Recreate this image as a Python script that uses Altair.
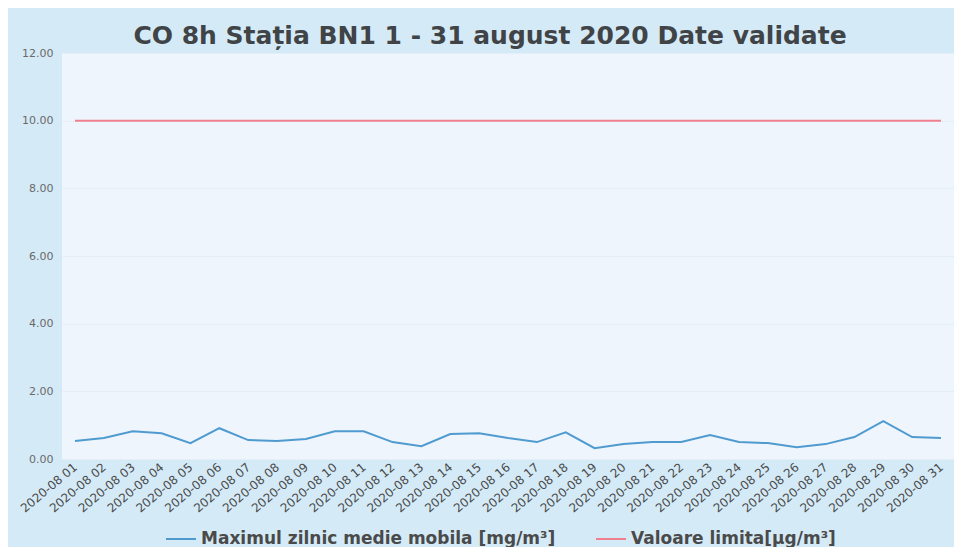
import altair as alt
import pandas as pd

dates = [f"2020-08 {d:02d}" for d in range(1, 32)]
co_values = [0.53, 0.62, 0.82, 0.76, 0.47, 0.91, 0.56, 0.53, 0.59, 0.82,
             0.82, 0.50, 0.38, 0.74, 0.76, 0.62, 0.50, 0.79, 0.32, 0.44,
             0.50, 0.50, 0.71, 0.50, 0.47, 0.35, 0.44, 0.65, 1.12, 0.65, 0.62]
limit_values = [10.0] * 31
series_names = ["Maximul zilnic medie mobila [mg/m³]", "Valoare limita[µg/m³]"]
series_colors = ["#4f9bd0", "#f0808e"]

rows = []
for d, v in zip(dates, co_values):
    rows.append({"date": d, "value": v, "series": series_names[0]})
for d, v in zip(dates, limit_values):
    rows.append({"date": d, "value": v, "series": series_names[1]})
df = pd.DataFrame(rows)

chart = alt.Chart(df).mark_line(strokeWidth=2).encode(
    x=alt.X("date:O", sort=dates, title=None,
            scale=alt.Scale(type="point", padding=0.45),
            axis=alt.Axis(labelAngle=-40, labelAlign="right", labelBaseline="middle",
                          labelFontSize=12, labelColor="#4a4a4a", labelFont="DejaVu Sans",
                          ticks=False, domain=False, labelPadding=6, labelOverlap=False)),
    y=alt.Y("value:Q", title=None,
            scale=alt.Scale(domain=[0, 12], nice=False),
            axis=alt.Axis(values=[0, 2, 4, 6, 8, 10, 12], format=".2f",
                          labelFontSize=11, labelColor="#6a6a6a", labelFont="DejaVu Sans",
                          ticks=False, domain=False, grid=True, gridColor="#e4eef8",
                          labelPadding=9)),
    color=alt.Color("series:N", sort=series_names,
                    scale=alt.Scale(domain=series_names, range=series_colors),
                    legend=alt.Legend(title=None, orient="none", direction="horizontal",
                                      legendX=103, legendY=470,
                                      symbolType="stroke", symbolStrokeWidth=2, symbolSize=900,
                                      labelFontSize=17, labelFontWeight="bold",
                                      labelColor="#4a4a4a", labelFont="DejaVu Sans",
                                      labelLimit=500, columnPadding=36, labelOffset=4)),
).properties(
    width=892,
    height=406,
    title=alt.TitleParams("CO 8h Stația BN1 1 - 31 august 2020 Date validate",
                          fontSize=25, fontWeight="bold", color="#404447",
                          font="DejaVu Sans", anchor="middle", offset=-2, dx=-18),
    background="#d5eaf7",
    padding={"left": 54, "top": 45, "right": 0, "bottom": 88},
    autosize=alt.AutoSizeParams(type="none"),
).configure_view(fill="#eef5fc", stroke=None)

chart.save("out.html", embed_options={"renderer": "svg", "actions": False})
